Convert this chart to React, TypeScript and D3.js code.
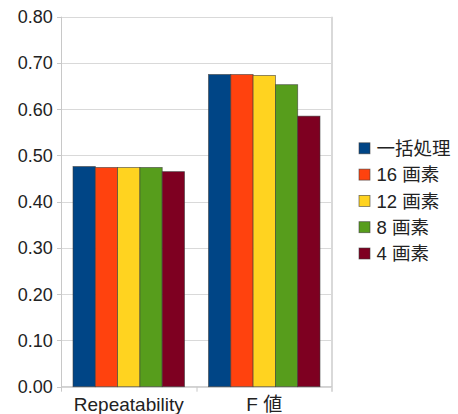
import React from "react";
import * as d3 from "d3";

const categories = ["Repeatability", "F 値"];
const seriesNames = ["一括処理", "16 画素", "12 画素", "8 画素", "4 画素"];
const seriesColors = ["#004586", "#ff420e", "#ffd320", "#579d1c", "#7e0021"];
// values[series][category]
const values = [
  [0.476, 0.675],
  [0.474, 0.675],
  [0.474, 0.673],
  [0.474, 0.653],
  [0.465, 0.585],
];
const yTicks = [0, 0.1, 0.2, 0.3, 0.4, 0.5, 0.6, 0.7, 0.8];

const W = 458;
const H = 414;
const plot = { left: 61, right: 332, top: 16.7, bottom: 386.7 };
const FONT = "'Liberation Sans', Arial, 'Noto Sans CJK JP', sans-serif";
const TEXT = "#222";

export default function App() {
  const y = d3.scaleLinear().domain([0, 0.8]).range([plot.bottom, plot.top]);
  const x0 = d3
    .scaleBand<string>()
    .domain(categories)
    .range([plot.left, plot.right])
    .paddingInner(0)
    .paddingOuter(0);
  const groupPad = 12;
  const x1 = d3
    .scaleBand<number>()
    .domain(d3.range(seriesNames.length))
    .range([groupPad, x0.bandwidth() - groupPad]);

  const boundaries = [plot.left, ...categories.map((c) => (x0(c) as number) + x0.bandwidth())];

  return (
    <svg
      width={W}
      height={H}
      style={{ position: "absolute", left: 0, top: 0, background: "#fff" }}
      fontFamily={FONT}
    >
      {/* grid */}
      {yTicks.map((t) => (
        <line
          key={"g" + t}
          x1={plot.left}
          x2={plot.right}
          y1={Math.round(y(t)) + 0.5}
          y2={Math.round(y(t)) + 0.5}
          stroke="#d9d9d9"
          strokeWidth={1}
        />
      ))}
      {/* plot frame right edge */}
      <line x1={plot.right} x2={plot.right} y1={plot.top} y2={plot.bottom + 5} stroke="#d9d9d9" strokeWidth={2} />
      {/* y axis */}
      <line x1={plot.left + 0.5} x2={plot.left + 0.5} y1={plot.top} y2={plot.bottom + 5} stroke="#c8c8c8" strokeWidth={1} />
      {yTicks.map((t) => (
        <g key={"t" + t}>
          <line
            x1={plot.left - 4}
            x2={plot.left}
            y1={Math.round(y(t)) + 0.5}
            y2={Math.round(y(t)) + 0.5}
            stroke="#c8c8c8"
          />
          <text
            x={52.7}
            y={y(t)}
            dy="0.35em"
            textAnchor="end"
            fontSize={18}
            fill={TEXT}
          >
            {d3.format(".2f")(t)}
          </text>
        </g>
      ))}
      {/* x axis */}
      <line x1={plot.left} x2={plot.right} y1={plot.bottom} y2={plot.bottom} stroke="#c8c8c8" />
      {boundaries.slice(1, -1).map((b, i) => (
        <line key={"xb" + i} x1={b + 0.5} x2={b + 0.5} y1={plot.bottom} y2={plot.bottom + 5} stroke="#c8c8c8" />
      ))}

      {/* bars */}
      {categories.map((c, ci) => (
        <g key={c} transform={`translate(${x0(c)},0)`}>
          {values.map((sv, si) => (
            <rect
              key={si}
              x={x1(si)}
              y={y(sv[ci])}
              width={x1.bandwidth()}
              height={plot.bottom - y(sv[ci])}
              fill={seriesColors[si]}
              stroke="#3a3a3a"
              strokeOpacity={0.7}
              strokeWidth={0.8}
            />
          ))}
          <text
            x={x0.bandwidth() / 2}
            y={410.5}
            textAnchor="middle"
            fontSize={19}
            fill={TEXT}
          >
            {c}
          </text>
        </g>
      ))}

      {/* legend */}
      {seriesNames.map((n, i) => {
        const cy = 148.3 + i * 26.3;
        return (
          <g key={n}>
            <rect
              x={359}
              y={cy - 5.5}
              width={11}
              height={11}
              fill={seriesColors[i]}
              stroke="#3a3a3a"
              strokeOpacity={0.7}
              strokeWidth={0.8}
            />
            <text x={376.5} y={cy} dy="0.36em" fontSize={18.5} fill={TEXT}>
              {n}
            </text>
          </g>
        );
      })}
    </svg>
  );
}
